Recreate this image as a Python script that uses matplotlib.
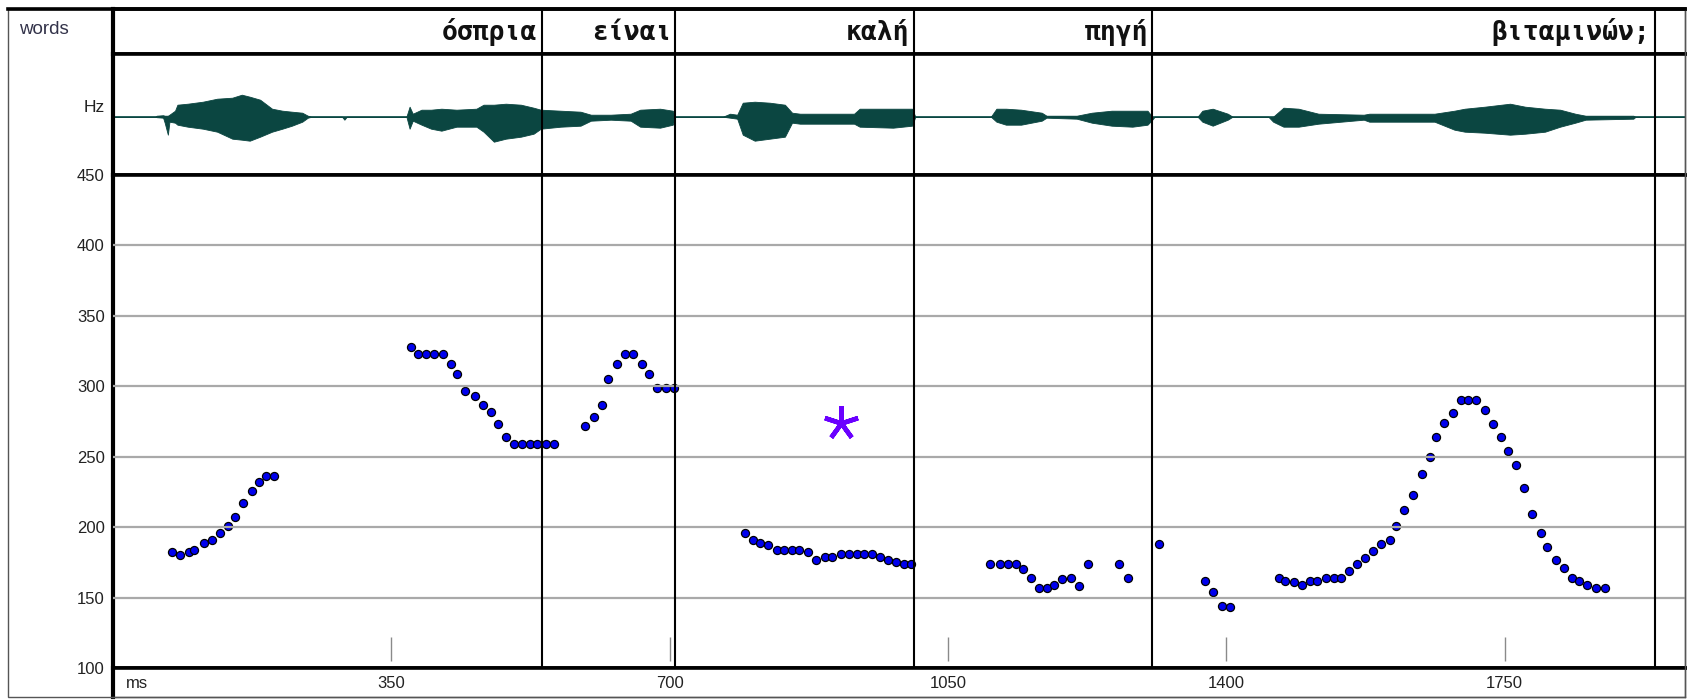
import matplotlib
matplotlib.use("Agg")
import numpy as np
import matplotlib.pyplot as plt
from matplotlib.lines import Line2D
from matplotlib.patches import Rectangle

W, H = 1691, 700

# words tier: labels and right boundaries (ms)
words = ["όσπρια", "είναι", "καλή", "πηγή", "βιταμινών;"]
word_ends = [539, 707, 1007, 1307, 1939]

# pitch track (ms, Hz)
pitch_t = [74, 84, 95, 102, 114, 124, 135, 145, 154, 164, 175, 184, 192, 203,
           375, 383, 394, 404, 415, 425, 433, 443, 455, 465, 475, 484, 494, 504, 514, 524, 533, 544, 555,
           594, 605, 615, 623, 634, 644, 654, 665, 674, 684, 695, 705,
           795, 805, 814, 824, 835, 844, 854, 863, 874, 884, 895, 904, 915, 925, 936, 945, 954, 964,
           975, 985, 995, 1004,
           1103, 1115, 1125, 1136, 1144, 1154, 1164, 1175, 1184, 1194, 1205, 1215, 1226, 1265, 1276,
           1315, 1373, 1384, 1395, 1405,
           1466, 1474, 1485, 1495, 1505, 1514, 1525, 1535, 1544, 1555, 1564, 1574, 1585, 1595, 1606,
           1614, 1624, 1635, 1646, 1656, 1664, 1674, 1685, 1695, 1704, 1714, 1725, 1735, 1746, 1754,
           1765, 1775, 1785, 1796, 1804, 1815, 1825, 1835, 1844, 1854, 1865, 1876]
pitch_hz = [182, 180, 182, 184, 189, 191, 196, 201, 207, 217, 226, 232, 236, 236,
            328, 323, 323, 323, 323, 316, 309, 297, 293, 287, 282, 273, 264, 259, 259, 259, 259, 259, 259,
            272, 278, 287, 305, 316, 323, 323, 316, 309, 299, 299, 299,
            196, 191, 189, 187, 184, 184, 184, 184, 182, 177, 179, 179, 181, 181, 181, 181, 181, 179,
            177, 175, 174, 174,
            174, 174, 174, 174, 170, 164, 157, 157, 159, 163, 164, 158, 174, 174, 164,
            188, 162, 154, 144, 143,
            164, 162, 161, 159, 162, 162, 164, 164, 164, 169, 174, 178, 183, 188, 191,
            201, 212, 223, 238, 250, 264, 274, 281, 290, 290, 290, 283, 273, 264, 254,
            244, 228, 209, 196, 186, 177, 171, 164, 162, 159, 157, 157]

# waveform envelope (ms, upper / lower excursion)
wave_t = [0, 53, 55, 63, 65, 69, 71, 78, 81, 94, 113, 131, 150, 162, 172, 185, 200, 213, 225, 238,
          245, 250, 288, 291, 294, 369, 373, 377, 388, 400, 413, 432, 457, 466, 479, 494, 513, 529, 538, 563,
          588, 601, 626, 651, 663, 688, 704, 707, 767, 776, 785, 792, 807, 826, 845, 854, 864, 932, 939, 981,
          1005, 1009, 1104, 1111, 1123, 1142, 1168, 1174, 1212, 1231, 1256, 1282, 1301, 1307, 1310, 1364,
          1370, 1383, 1402, 1408, 1453, 1459, 1472, 1491, 1516, 1573, 1580, 1662, 1687, 1700, 1725, 1757,
          1776, 1801, 1820, 1839, 1852, 1912, 1915, 1977]
wave_hi = [0, 0, 1, 1.5, 1, 1, 2, 6, 12, 13, 15, 18, 19, 22, 20, 17, 8, 6, 5, 4,
           1, 0, 0, 0, 0, 0, 10, 3, 7, 7, 8, 7, 8, 12, 12, 13, 12, 9, 7, 6,
           5, 2, 2, 3, 7, 8, 6, 0, 0, 3, 2, 14, 15, 14, 12, 4, 3, 3, 8, 8,
           8, 0, 0, 8, 8, 7, 4, 1, 1, 4, 6, 6, 6, 0, 0, 0,
           6, 8, 3, 0, 0, 0, 9, 8, 3, 2, 3, 3, 6, 8, 10, 13,
           10, 8, 7, 3, 1, 1, 0, 0]
wave_lo = [0, 0, 0.5, 1, 6, 18, 5, 6, 8, 10, 12, 15, 22, 23, 24, 20, 15, 12, 9, 5,
           1, 0, 0, 3, 0, 0, 12, 4, 8, 12, 14, 10, 10, 15, 25, 22, 20, 17, 12, 10,
           9, 4, 3, 4, 10, 11, 8, 0, 0, 1, 2, 18, 24, 22, 20, 6, 7, 7, 10, 11,
           9, 0, 0, 5, 8, 8, 4, 1, 2, 6, 9, 10, 8, 3, 0, 0,
           5, 9, 3, 0, 0, 5, 10, 10, 7, 3, 5, 5, 13, 15, 16, 18,
           17, 15, 10, 6, 3, 2, 0, 0]

hz_ticks = [100, 150, 200, 250, 300, 350, 400, 450]
ms_ticks = [350, 700, 1050, 1400, 1750]

star_t = [915]
star_hz = [274]

t_max = 1977
label_font = ["Liberation Sans", "DejaVu Sans"]


def box(top, bottom):
    # tier position from pixel rows of the picture
    return [113 / W, 1 - bottom / H, (1685 - 113) / W, (bottom - top) / H]


def style(ax, bottom_lw=2.6):
    ax.set_xlim(0, t_max)
    ax.set_xticks([])
    ax.set_yticks([])
    for s in ax.spines.values():
        s.set_color("black")
    ax.spines["left"].set_linewidth(3.0)
    ax.spines["top"].set_linewidth(2.6)
    ax.spines["bottom"].set_linewidth(bottom_lw)
    ax.spines["right"].set_linewidth(1.0)
    ax.spines["right"].set_color("#505050")


fig = plt.figure(figsize=(W / 100, H / 100), dpi=100)
fig.patch.set_facecolor("white")

ax_words = fig.add_axes(box(8.6, 54))
ax_wave = fig.add_axes(box(54, 175))
ax_pitch = fig.add_axes(box(175, 668))
ax_time = fig.add_axes(box(668, 697))
for a in (ax_words, ax_wave, ax_pitch):
    style(a)
style(ax_time, bottom_lw=1.0)
ax_time.spines["bottom"].set_color("#404040")

# words
ax_words.set_ylim(0, 1)
for w, e in zip(words, word_ends):
    ax_words.annotate(w, xy=(e, 0.31), xytext=(-3, 0), textcoords="offset points",
                      ha="right", va="baseline", fontsize=19, fontweight="bold",
                      family=["DejaVu Sans Mono", "DejaVu Sans"], color="#111111")

# waveform
ax_wave.set_ylim(-58.3, 62.7)
ax_wave.axhline(0, color="#2c6b66", lw=1.3, zorder=1)
ax_wave.fill_between(wave_t, wave_hi, -np.array(wave_lo), color="#0b4641", lw=0.6, zorder=2)

# pitch
ax_pitch.set_ylim(100, 450)
ax_pitch.set_yticks(hz_ticks)
ax_pitch.set_yticklabels([str(h) for h in hz_ticks], family=label_font, fontsize=12, color="#222222")
ax_pitch.tick_params(axis="y", length=0, pad=6)
for h in hz_ticks[1:-1]:
    ax_pitch.axhline(h, color="#a9a9a9", lw=1.6, zorder=3)
ax_pitch.vlines(ms_ticks, 105, 122, color="#8a8a8a", lw=1.0, zorder=2)
ax_pitch.plot(pitch_t, pitch_hz, "o", ms=5.8, mfc="#0000ee", mec="black", mew=0.9, zorder=2)
ax_pitch.plot(star_t, star_hz, marker=(5, 2, 0), ms=25, mec="#6a00ff", mew=3.3, ls="none", zorder=5)

for a in (ax_words, ax_wave, ax_pitch):
    for e in word_ends:
        a.axvline(e, color="black", lw=1.5, zorder=4)

# time axis strip
ax_time.set_ylim(0, 1)
for t in ms_ticks:
    ax_time.text(t, 0.48, str(t), ha="center", va="center", fontsize=12,
                 family=label_font, color="#222222")
ax_time.text(16, 0.48, "ms", ha="left", va="center", fontsize=12, family=label_font, color="#222222")

# outer frame and left label column
fig.add_artist(Rectangle((7.7 / W, 1 - 697 / H), (1685 - 7.7) / W, (697 - 8.6) / H,
                         fill=False, lw=1.0, ec="#555555", transform=fig.transFigure))
fig.add_artist(Line2D([7.7 / W, 1685 / W], [1 - 8.6 / H] * 2, lw=2.6, color="black",
                      transform=fig.transFigure))
fig.text(19 / W, 1 - 30 / H, "words", ha="left", va="center", fontsize=13.5,
         family=label_font, color="#33334a")
fig.text(104.6 / W, 1 - 107 / H, "Hz", ha="right", va="center", fontsize=12.5,
         family=label_font, color="#222222")

fig.savefig("out.png", dpi=100, facecolor="white")
